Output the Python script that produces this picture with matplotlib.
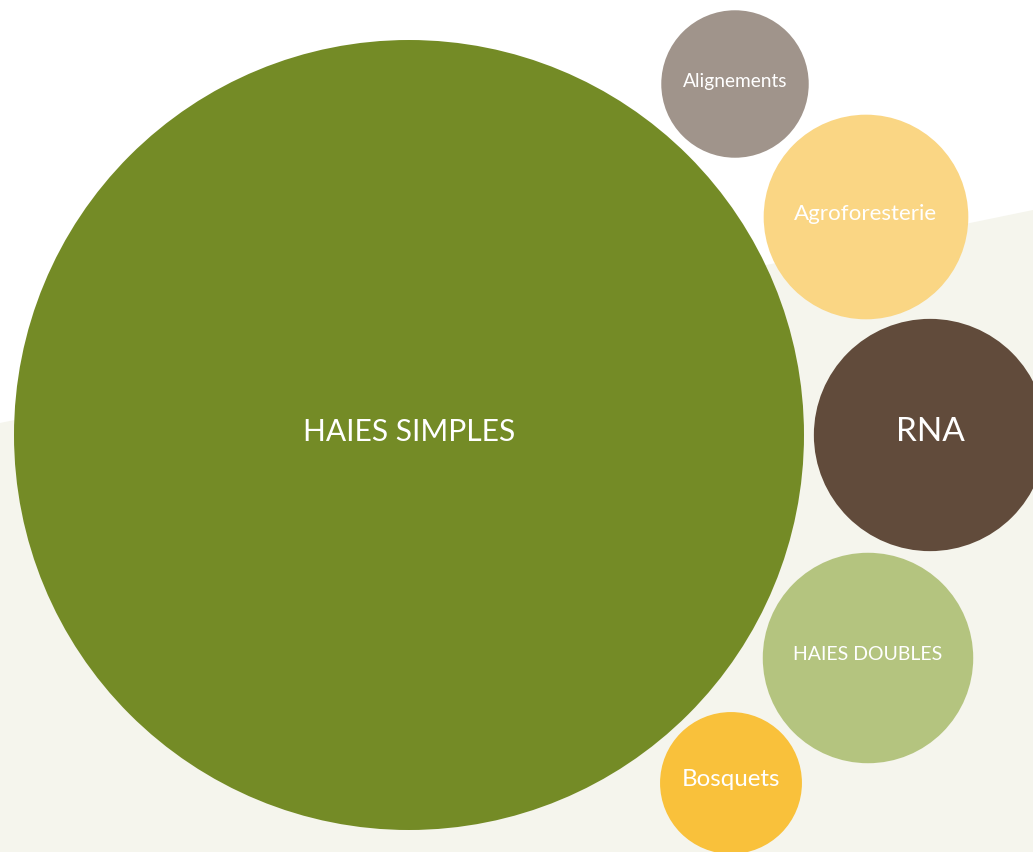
import numpy as np
import matplotlib
matplotlib.use("Agg")
import matplotlib.pyplot as plt
import matplotlib.patches as ptc

# Données : part de chaque type de linéaire (%)
labels = ["HAIES SIMPLES", "Alignements", "Agroforesterie", "RNA",
          "HAIES DOUBLES", "Bosquets"]
values = [77.5, 2.7, 5.2, 6.7, 5.5, 2.5]

# Mise en page des bulles (centres en pixels)
centers_x = [409, 735, 866, 930, 868, 731]
centers_y = [435, 84, 217, 435, 658, 783]
colors = ["#748b26", "#a0948b", "#fad684", "#614b3b", "#b4c47f", "#f9c13b"]
font_sizes = [21.6, 13.8, 16.1, 24, 14, 17.4]

W, H = 1033, 852
fig = plt.figure(figsize=(W / 100, H / 100), dpi=100)
ax = fig.add_axes([0, 0, 1, 1])
ax.set_xlim(0, W)
ax.set_ylim(H, 0)
ax.set_aspect("equal")
ax.axis("off")

# fond beige incliné
ax.add_patch(ptc.Polygon([(0, 423), (W, 210), (W, H), (0, H)],
                         closed=True, color="#f5f5ed", lw=0, zorder=0))

scale = 395 / np.sqrt(values[0])
for lab, val, cx, cy, col, fs in zip(labels, values, centers_x, centers_y,
                                     colors, font_sizes):
    r = scale * np.sqrt(val)
    ax.add_patch(ptc.Circle((cx, cy), r, color=col, lw=0, zorder=2))
    ax.text(cx, cy - 3, lab, ha="center", va="center", color="white",
            fontsize=fs, family="Lato", zorder=3)

fig.savefig("out.png", dpi=100)
